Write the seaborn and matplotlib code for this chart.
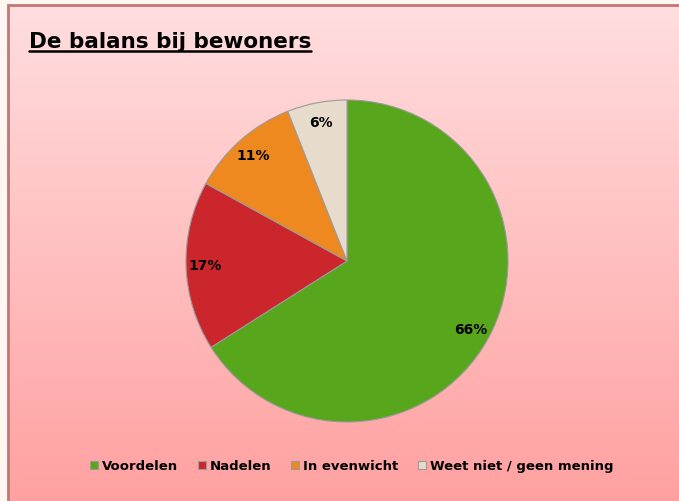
import matplotlib
matplotlib.use("Agg")
import matplotlib.pyplot as plt
import numpy as np
import seaborn as sns
from matplotlib.patches import Rectangle

categories = ["Voordelen", "Nadelen", "In evenwicht", "Weet niet / geen mening"]
shares = [66, 17, 11, 6]
colors = ["#58A61B", "#CB262C", "#EE891F", "#E7DCCC"]
title = "De balans bij bewoners"

sns.set_theme(style="white")
plt.rcParams["font.family"] = ["DejaVu Sans"]
plt.rcParams["text.color"] = "black"

W, H = 679, 502
fig = plt.figure(figsize=(W / 100, H / 100), dpi=100, facecolor="#FFF6F2")

# gradient background of the chart area
bg = fig.add_axes([8 / W, 0, 1 - 8 / W, 1 - 6 / H])
grad = np.linspace(0, 1, 256)[:, None]
top = np.array([1.0, 0.87, 0.875])
bot = np.array([1.0, 0.63, 0.63])
img = top[None, None, :] * (1 - grad[..., None]) + bot[None, None, :] * grad[..., None]
bg.imshow(img, aspect="auto", extent=[0, 1, 0, 1])
bg.set_axis_off()
fig.add_artist(Rectangle((8 / W, -0.1), 1.2, 1 - 6 / H + 0.1, transform=fig.transFigure,
                         fill=False, edgecolor="#C27676", linewidth=2))

ax = fig.add_axes([186 / W, 79 / H, 322 / W, 322 / H])
wedges, texts, autotexts = ax.pie(
    shares, colors=colors, startangle=90, counterclock=False,
    autopct="%d%%", pctdistance=0.88,
    wedgeprops=dict(edgecolor="#9A9A9A", linewidth=0.8),
    textprops=dict(fontsize=10, fontweight="bold", color="black"),
)
ax.set_xlim(-1, 1)
ax.set_ylim(-1, 1)
ax.set_aspect("equal")
ax.set_axis_off()

t = fig.text(29 / W, 1 - 48 / H, title, fontsize=15.5, fontweight="bold",
             ha="left", va="baseline", color="black")
fig.canvas.draw()
bb = t.get_window_extent()
fig.add_artist(plt.Line2D([bb.x0 / W, bb.x1 / W], [(H - 52) / H, (H - 52) / H],
                          transform=fig.transFigure, color="black", linewidth=1.8))

leg = fig.legend(wedges, categories, loc="center", bbox_to_anchor=(352 / W, 1 - 467 / H),
                 ncol=4, frameon=False, handlelength=0.6, handleheight=0.6,
                 handletextpad=0.3, columnspacing=1.5, prop=dict(size=9.5, weight="bold"))
for txt in leg.get_texts():
    txt.set_color("black")

fig.savefig("out.png", dpi=100, facecolor=fig.get_facecolor())
